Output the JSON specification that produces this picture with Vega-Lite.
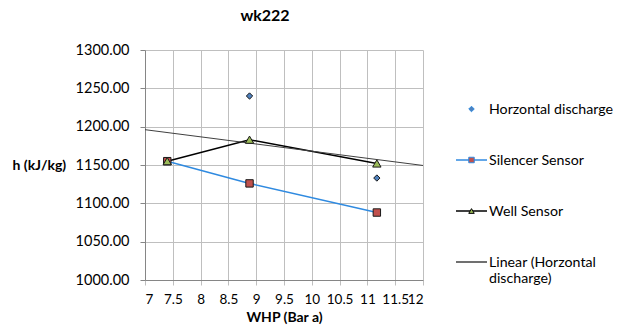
{
  "$schema": "https://vega.github.io/schema/vega-lite/v6.json",
  "background": "white",
  "padding": {"left": 12, "top": 8, "right": 0, "bottom": 0},
  "bounds": "flush",
  "spacing": 33,
  "resolve": {"scale": {"x": "independent", "y": "independent", "stroke": "independent", "fill": "independent", "shape": "independent", "size": "independent", "strokeWidth": "independent"}},
  "config": {
    "font": "Lato",
    "view": {"stroke": null},
    "text": {"lineBreak": "\n"}
  },
  "datasets": {
    "pts": [
      {"series": "Horzontal discharge", "whp": 7.4, "h": 1155},
      {"series": "Horzontal discharge", "whp": 8.88, "h": 1240},
      {"series": "Horzontal discharge", "whp": 11.17, "h": 1133},
      {"series": "Silencer Sensor", "whp": 7.4, "h": 1155},
      {"series": "Silencer Sensor", "whp": 8.88, "h": 1126},
      {"series": "Silencer Sensor", "whp": 11.17, "h": 1088},
      {"series": "Well Sensor", "whp": 7.4, "h": 1155},
      {"series": "Well Sensor", "whp": 8.88, "h": 1183},
      {"series": "Well Sensor", "whp": 11.17, "h": 1152}
    ],
    "leg": [
      {"series": "Horzontal discharge", "rank": 1, "label": "Horzontal discharge"},
      {"series": "Silencer Sensor", "rank": 2, "label": "Silencer Sensor"},
      {"series": "Well Sensor", "rank": 3, "label": "Well Sensor"},
      {"series": "Linear (Horzontal discharge)", "rank": 4, "label": "Linear (Horzontal\ndischarge)"}
    ]
  },
  "hconcat": [
    {
      "width": 278,
      "height": 230,
      "title": {"text": "wk222", "fontSize": 16, "fontWeight": "bold", "font": "Lato", "color": "#000000", "dx": -19, "offset": 18},
      "data": {"name": "pts"},
      "encoding": {
        "x": {
          "field": "whp", "type": "quantitative",
          "scale": {"domain": [7, 12], "nice": false, "zero": false},
          "axis": {
            "title": "WHP (Bar a)", "values": [7, 7.5, 8, 8.5, 9, 9.5, 10, 10.5, 11, 11.5, 12],
            "format": "~r", "grid": true, "gridColor": "#bfbfbf", "gridOpacity": 1, "labelOverlap": false,
            "domainColor": "#868686", "tickColor": "#bfbfbf", "tickSize": 5,
            "labelFont": "Lato", "labelFontSize": 13.5, "labelColor": "#000000", "labelPadding": 7,
            "titleFont": "Lato", "titleFontSize": 14, "titleFontWeight": "bold", "titleColor": "#000000", "titlePadding": 5
          }
        },
        "y": {
          "field": "h", "type": "quantitative",
          "scale": {"domain": [1000, 1300], "nice": false, "zero": false},
          "axis": {
            "title": "h (kJ/kg)", "values": [1000, 1050, 1100, 1150, 1200, 1250, 1300],
            "format": ".2f", "grid": true, "gridColor": "#bfbfbf", "gridOpacity": 1, "labelOverlap": false,
            "domainColor": "#868686", "tickColor": "#868686", "tickSize": 5,
            "labelFont": "Lato", "labelFontSize": 14.5, "labelColor": "#000000", "labelPadding": 11,
            "titleFont": "Lato", "titleFontSize": 14, "titleFontWeight": "bold", "titleColor": "#000000",
            "titleAngle": 0, "titleAlign": "left", "titleBaseline": "middle", "titleX": -133, "titleY": 115
          }
        }
      },
      "layer": [
        {
          "transform": [{"filter": "datum.series !== 'Horzontal discharge'"}],
          "mark": {"type": "line", "strokeWidth": 1.5},
          "encoding": {
            "stroke": {
              "field": "series", "type": "nominal",
              "scale": {"domain": ["Silencer Sensor", "Well Sensor"], "range": ["#2f8ae0", "#000000"]},
              "legend": null
            }
          }
        },
        {
          "transform": [
            {"filter": "datum.series === 'Horzontal discharge'"},
            {"regression": "h", "on": "whp", "extent": [7, 12]}
          ],
          "mark": {"type": "line", "stroke": "#404040", "strokeWidth": 1}
        },
        {
          "mark": {"type": "point", "filled": true, "opacity": 1, "strokeWidth": 1},
          "encoding": {
            "shape": {
              "field": "series", "type": "nominal",
              "scale": {"domain": ["Horzontal discharge", "Silencer Sensor", "Well Sensor"], "range": ["diamond", "square", "triangle-up"]},
              "legend": null
            },
            "fill": {
              "field": "series", "type": "nominal",
              "scale": {"domain": ["Horzontal discharge", "Silencer Sensor", "Well Sensor"], "range": ["#4f81bd", "#c0504d", "#9bbb59"]},
              "legend": null
            },
            "stroke": {"value": "#1a1a1a"},
            "size": {
              "field": "series", "type": "nominal",
              "scale": {"domain": ["Horzontal discharge", "Silencer Sensor", "Well Sensor"], "range": [40, 70, 45]},
              "legend": null
            }
          }
        }
      ]
    },
    {
      "width": 165,
      "height": 230,
      "data": {"name": "leg"},
      "encoding": {
        "y": {
          "field": "rank", "type": "quantitative",
          "scale": {"domain": [-0.157, 4.353], "reverse": true, "nice": false, "zero": false},
          "axis": null
        }
      },
      "layer": [
        {
          "transform": [{"filter": "datum.rank > 1"}],
          "mark": {"type": "rule"},
          "encoding": {
            "x": {"datum": 0, "type": "quantitative", "scale": {"domain": [0, 165], "nice": false, "zero": false}, "axis": null},
            "x2": {"datum": 31},
            "stroke": {
              "field": "series", "type": "nominal",
              "scale": {"domain": ["Silencer Sensor", "Well Sensor", "Linear (Horzontal discharge)"], "range": ["#2f8ae0", "#000000", "#404040"]},
              "legend": null
            },
            "strokeWidth": {
              "field": "series", "type": "nominal",
              "scale": {"domain": ["Silencer Sensor", "Well Sensor", "Linear (Horzontal discharge)"], "range": [1.5, 1.5, 1]},
              "legend": null
            }
          }
        },
        {
          "transform": [{"filter": "datum.rank < 4"}],
          "mark": {"type": "point", "filled": true, "opacity": 1, "strokeWidth": 1},
          "encoding": {
            "x": {"datum": 15.5, "type": "quantitative"},
            "shape": {
              "field": "series", "type": "nominal",
              "scale": {"domain": ["Horzontal discharge", "Silencer Sensor", "Well Sensor"], "range": ["diamond", "square", "triangle-up"]},
              "legend": null
            },
            "fill": {
              "field": "series", "type": "nominal",
              "scale": {"domain": ["Horzontal discharge", "Silencer Sensor", "Well Sensor"], "range": ["#4f81bd", "#c0504d", "#9bbb59"]},
              "legend": null
            },
            "stroke": {
              "field": "series", "type": "nominal",
              "scale": {"domain": ["Horzontal discharge", "Silencer Sensor", "Well Sensor"], "range": ["#ffffff", "#1a1a1a", "#1a1a1a"]},
              "legend": null
            },
            "size": {"value": 30}
          }
        },
        {
          "mark": {"type": "text", "align": "left", "baseline": "alphabetic", "dy": 5, "fontSize": 14.2, "font": "Lato", "color": "#000000"},
          "encoding": {
            "x": {"datum": 33, "type": "quantitative"},
            "text": {"field": "label"}
          }
        }
      ]
    }
  ]
}
